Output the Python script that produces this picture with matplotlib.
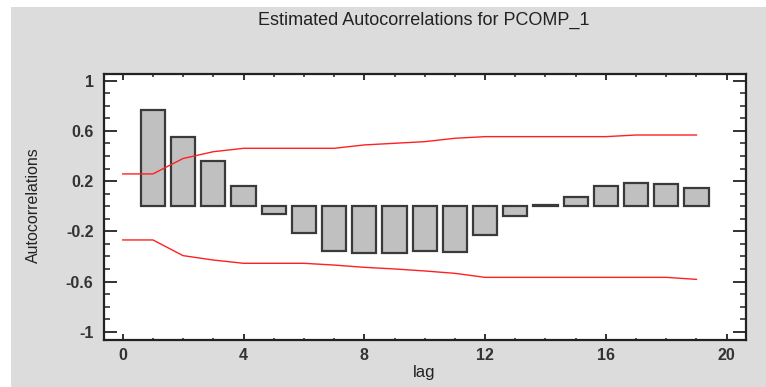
import matplotlib
matplotlib.use("Agg")
import matplotlib.pyplot as plt
from matplotlib.patches import Rectangle
from matplotlib.ticker import MultipleLocator

lags = list(range(1, 20))
acf = [0.767, 0.551, 0.363, 0.161, -0.065, -0.216, -0.355, -0.376, -0.376,
       -0.355, -0.368, -0.230, -0.080, 0.010, 0.071, 0.161, 0.187, 0.174, 0.147]
limit_lags = [0, 1, 2, 3, 4, 5, 6, 7, 8, 9, 10, 11, 12, 13, 14, 15, 16, 17, 18, 19]
upper = [0.257, 0.257, 0.380, 0.434, 0.461, 0.461, 0.461, 0.461, 0.488, 0.501,
         0.514, 0.541, 0.554, 0.554, 0.554, 0.554, 0.554, 0.567, 0.567, 0.567]
lower = [-0.269, -0.269, -0.394, -0.429, -0.455, -0.455, -0.455, -0.469, -0.487, -0.500,
         -0.516, -0.535, -0.567, -0.567, -0.567, -0.567, -0.567, -0.567, -0.567, -0.583]
yticks = [-1, -0.6, -0.2, 0.2, 0.6, 1]
ytick_labels = ["-1", "-0.6", "-0.2", "0.2", "0.6", "1"]
xticks = [0, 4, 8, 12, 16, 20]

fig = plt.figure(figsize=(7.66, 3.87), dpi=100)
fig.patch.set_facecolor("white")
fig.patches.append(Rectangle((11 / 766, 0), 1, 1 - 7 / 387, transform=fig.transFigure,
                             facecolor="#dcdcdc", edgecolor="none", zorder=-10))

ax = fig.add_axes([104 / 766, 1 - 340 / 387, (746 - 104) / 766, (340 - 74) / 387])
ax.set_facecolor("white")

ax.bar(lags, acf, width=0.8, color="#c0c0c0", edgecolor="#3a3a3a", linewidth=1.6, zorder=2)
ax.plot(limit_lags, upper, color="#ff2020", linewidth=1.0, zorder=3)
ax.plot(limit_lags, lower, color="#ff2020", linewidth=1.0, zorder=3)

ax.set_xlim(-0.62, 20.64)
ax.set_ylim(-1.066, 1.053)
ax.set_xticks(xticks)
ax.set_yticks(yticks)
ax.set_yticklabels(ytick_labels)
ax.xaxis.set_minor_locator(MultipleLocator(1))
ax.yaxis.set_minor_locator(MultipleLocator(0.1))
ax.tick_params(which="both", direction="in", top=True, right=True, color="#222222")
ax.tick_params(axis="y", which="major", length=9.5, width=1.3, pad=7.5)
ax.tick_params(axis="y", which="minor", length=4.5, width=1.1)
ax.tick_params(axis="x", which="major", length=4, width=1.3, pad=6)
ax.tick_params(axis="x", which="minor", length=1.8, width=1.1)
for lab in ax.get_xticklabels() + ax.get_yticklabels():
    lab.set_fontfamily("Liberation Sans")
    lab.set_fontsize(11.5)
    lab.set_fontweight("bold")
    lab.set_color("#333333")
for s in ax.spines.values():
    s.set_linewidth(1.6)
    s.set_color("#222222")

fig.text(424 / 766, 1 - 20 / 387, "Estimated Autocorrelations for PCOMP_1",
         ha="center", va="center", fontsize=13, family="Liberation Sans", color="#222222")
fig.text(424 / 766, 1 - 377 / 387, "lag", ha="center", va="baseline", fontsize=12,
         family="Liberation Sans", color="#222222")
fig.text(33 / 766, 1 - 205 / 387, "Autocorrelations", ha="center", va="center",
         rotation=90, fontsize=11.5, family="Liberation Sans", color="#222222")

fig.savefig("out.png", dpi=100, facecolor=fig.get_facecolor())
